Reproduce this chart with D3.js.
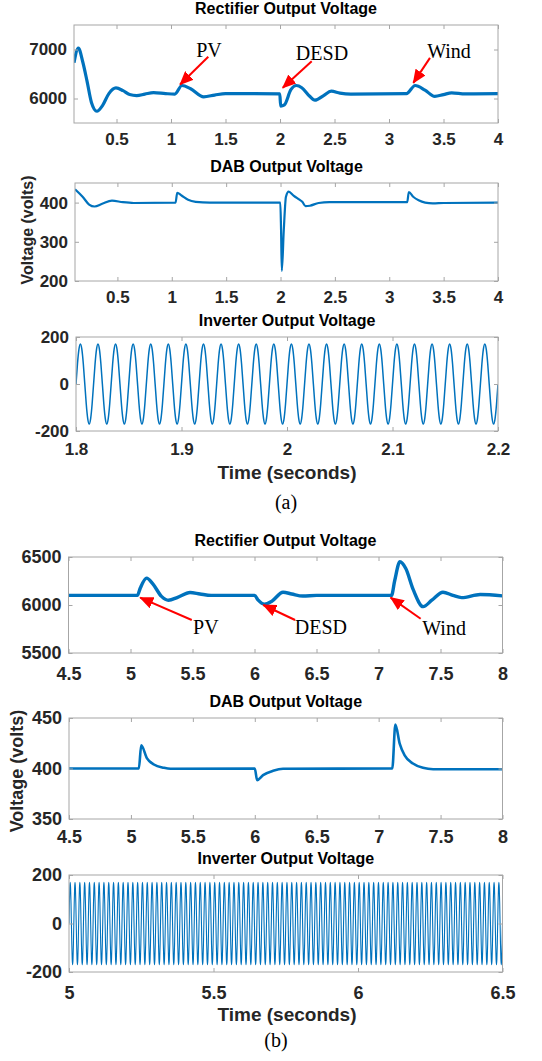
<!DOCTYPE html>
<html>
<head>
<meta charset="utf-8">
<script src="https://cdn.jsdelivr.net/npm/d3@7"></script>
<style>
  body { margin: 0; background: #fff; }
</style>
</head>
<body>
<svg width="542" height="1061"></svg>
<script>
// ---------- data ----------

// (a) rectifier output voltage, 0.11 .. 4 s
var recA_t = [0.11, 0.15, 0.19, 0.23, 0.27, 0.32, 0.37, 0.43, 0.495, 0.56, 0.62, 0.685, 0.76, 0.84, 0.95, 1.035,
  1.1, 1.18, 1.3, 1.4, 1.5, 1.7, 1.998, 2.006, 2.04, 2.1, 2.15, 2.2, 2.27, 2.32, 2.4, 2.47, 2.55, 2.65,
  3.16, 3.24, 3.33, 3.42, 3.5, 3.575, 3.7, 4.0];
var recA_v = [6730, 7030, 6750, 6350, 5920, 5740, 5850, 6100, 6215, 6160, 6080, 6060, 6090, 6120, 6100, 6090,
  6265, 6200, 6035, 6070, 6100, 6100, 6095, 5845, 5870, 6180, 6265, 6220, 6050, 5966, 6060, 6150, 6110, 6090,
  6100, 6265, 6170, 6043, 6080, 6116, 6095, 6100];

// (a) DAB output voltage
var dabA_t = [0.11, 0.18, 0.24, 0.29, 0.36, 0.45, 0.55, 0.65, 1.035, 1.05, 1.09, 1.15, 1.22, 1.35,
  1.998, 2.005, 2.012, 2.03, 2.05, 2.075, 2.12, 2.17, 2.2, 2.23, 2.27, 2.35, 2.45,
  3.165, 3.18, 3.22, 3.27, 3.33, 3.4, 3.5, 4.0];
var dabA_v = [434, 415, 395, 390, 397, 405, 401, 399, 400, 425, 418, 407, 402, 400,
  400, 330, 226, 330, 415, 428, 418, 408, 402, 391, 392, 399, 401,
  401, 427, 415, 406, 400, 398, 399, 400];

// (b) rectifier output voltage, 4.5 .. 8 s
var recB_t = [4.5, 5.055, 5.08, 5.13, 5.18, 5.25, 5.306, 5.38, 5.48, 5.56, 5.65, 6.0, 6.03, 6.08, 6.14, 6.23,
  6.3, 6.39, 6.5, 7.105, 7.13, 7.173, 7.22, 7.28, 7.36, 7.43, 7.52, 7.6, 7.67, 7.82, 8.0];
var recB_v = [6100, 6100, 6180, 6280, 6220, 6090, 6050, 6080, 6130, 6115, 6100, 6100, 6050, 6008, 6040, 6133,
  6115, 6093, 6100, 6100, 6250, 6450, 6380, 6160, 5983, 6050, 6133, 6100, 6077, 6110, 6095];

// (b) DAB output voltage
var dabB_t = [4.5, 5.064, 5.083, 5.13, 5.185, 5.266, 5.32, 6.0, 6.019, 6.067, 6.148, 6.228,
  7.11, 7.135, 7.17, 7.21, 7.277, 7.358, 7.44, 8.0];
var dabB_v = [400, 400, 423, 410, 404, 400.7, 399.7, 400, 388.5, 393.4, 397.7, 399.7,
  400, 443.4, 424.7, 413, 405, 400.7, 399.3, 399.3];

// inverter output: one 60 Hz cycle (12 samples), repeated over the window
var invCycle = [0, 85, 147, 170, 147, 85, 0, -85, -147, -170, -147, -85];
var invFreq = 60;
var invA_window = [1.8, 2.2];
var invB_window = [5, 6.5];

// event annotations
var eventNames = ["PV", "DESD", "Wind"];
var notesA_headT = [1.083, 2.025, 3.223], notesA_headV = [6286, 6218, 6320];
var notesA_tailT = [1.342, 2.291, 3.376], notesA_tailV = [6851, 6761, 6830];
var notesA_textT = [1.349, 2.385, 3.55],  notesA_textV = [6837, 6781, 6832];
var notesB_headT = [5.078, 6.071, 7.098], notesB_headV = [6077, 6000, 6077];
var notesB_tailT = [5.494, 6.327, 7.34],  notesB_tailV = [5844, 5844, 5857];
var notesB_textT = [5.608, 6.535, 7.529], notesB_textV = [5700, 5700, 5684];

// axis ticks
var ticksA_x = [0.5, 1, 1.5, 2, 2.5, 3, 3.5, 4];
var ticksA_inv = [1.8, 1.9, 2, 2.1, 2.2];
var ticksB_x = [4.5, 5, 5.5, 6, 6.5, 7, 7.5, 8];
var ticksB_inv = [5, 5.5, 6, 6.5];

// ---------- drawing ----------
var svg = d3.select("svg");
var BLUE = "#0072BD", INK = "#262626", BOX = "#a6a6a6";
var SANS = "'Liberation Sans', Arial, Helvetica, sans-serif";
var SERIF = "'Liberation Serif', 'Times New Roman', serif";

var defs = svg.append("defs");
defs.append("marker")
    .attr("id", "arrowhead")
    .attr("markerUnits", "userSpaceOnUse")
    .attr("markerWidth", 14).attr("markerHeight", 12)
    .attr("refX", 13).attr("refY", 6)
    .attr("orient", "auto")
  .append("path")
    .attr("d", "M0,0 L14,6 L0,12 Z")
    .attr("fill", "#ff0000");

function tile(cycle, freq, win) {
  var step = 1 / freq / cycle.length, pts = [];
  var n = Math.round((win[1] - win[0]) / step);
  for (var i = 0; i <= n; i++) pts.push([win[0] + i * step, cycle[i % cycle.length]]);
  return pts;
}

var clipCount = 0;
function panel(o) {
  var l = o.box[0], t = o.box[1], r = o.box[2], b = o.box[3];
  var x = d3.scaleLinear().domain(o.xDomain).range([l, r]);
  var y = d3.scaleLinear().domain(o.yDomain).range([b, t]);
  var g = svg.append("g");
  var fmt = function (d) { return String(d); };

  var id = "clip" + (clipCount++);
  defs.append("clipPath").attr("id", id)
    .append("rect").attr("x", l).attr("y", t).attr("width", r - l).attr("height", b - t);

  // trace
  var line = d3.line()
      .x(function (d) { return x(d[0]); })
      .y(function (d) { return y(d[1]); })
      .curve(o.curve);
  g.append("path")
      .datum(o.data)
      .attr("clip-path", "url(#" + id + ")")
      .attr("fill", "none")
      .attr("stroke", BLUE)
      .attr("stroke-width", o.width)
      .attr("stroke-linejoin", "round")
      .attr("d", line);

  // box + inward ticks on all four sides
  g.append("rect").attr("x", l).attr("y", t).attr("width", r - l).attr("height", b - t)
      .attr("fill", "none").attr("stroke", BOX).attr("stroke-width", 1);

  function style(sel, showText) {
    sel.select(".domain").remove();
    sel.selectAll(".tick line").attr("stroke", BOX);
    sel.selectAll(".tick text")
        .attr("fill", INK)
        .attr("font-family", SANS)
        .attr("font-weight", "bold")
        .attr("font-size", o.tickSize)
        .style("display", showText ? null : "none");
  }
  g.append("g").attr("transform", "translate(0," + b + ")")
      .call(d3.axisBottom(x).tickValues(o.xTicks).tickSize(-4).tickPadding(o.xPad).tickFormat(fmt))
      .call(style, true);
  g.append("g").attr("transform", "translate(0," + t + ")")
      .call(d3.axisTop(x).tickValues(o.xTicks).tickSize(-4).tickFormat(fmt))
      .call(style, false);
  g.append("g").attr("transform", "translate(" + l + ",0)")
      .call(d3.axisLeft(y).tickValues(o.yTicks).tickSize(-4).tickPadding(7).tickFormat(fmt))
      .call(style, true);
  g.append("g").attr("transform", "translate(" + r + ",0)")
      .call(d3.axisRight(y).tickValues(o.yTicks).tickSize(-4).tickFormat(fmt))
      .call(style, false);

  // title
  g.append("text")
      .attr("x", (l + r) / 2).attr("y", t - 11)
      .attr("text-anchor", "middle")
      .attr("font-family", SANS).attr("font-weight", "bold").attr("font-size", 16)
      .attr("fill", "#000")
      .text(o.title);

  // red arrows with event names
  if (o.notes) {
    var n = o.notes;
    eventNames.forEach(function (name, i) {
      g.append("line")
          .attr("x1", x(n.tailT[i])).attr("y1", y(n.tailV[i]))
          .attr("x2", x(n.headT[i])).attr("y2", y(n.headV[i]))
          .attr("stroke", "#ff0000").attr("stroke-width", 2)
          .attr("marker-end", "url(#arrowhead)");
      g.append("text")
          .attr("x", x(n.textT[i])).attr("y", y(n.textV[i]))
          .attr("text-anchor", "middle")
          .attr("font-family", SERIF).attr("font-size", 20)
          .attr("fill", "#000")
          .text(name);
    });
  }
}

function label(txt, px, py, size, rotate, font, weight, fill) {
  svg.append("text")
      .attr("transform", "translate(" + px + "," + py + ")" + (rotate ? " rotate(-90)" : ""))
      .attr("text-anchor", "middle")
      .attr("dy", rotate ? "0.35em" : null)
      .attr("font-family", font).attr("font-weight", weight).attr("font-size", size)
      .attr("fill", fill)
      .text(txt);
}

// ----- figure (a) -----
panel({ box: [74, 25, 498, 123], xDomain: [0.11, 4], yDomain: [5500, 7500],
  xTicks: ticksA_x, yTicks: [6000, 7000], xPad: 10, tickSize: 17,
  title: "Rectifier Output Voltage", data: d3.zip(recA_t, recA_v),
  curve: d3.curveMonotoneX, width: 3.2,
  notes: { headT: notesA_headT, headV: notesA_headV, tailT: notesA_tailT, tailV: notesA_tailV,
           textT: notesA_textT, textV: notesA_textV } });

panel({ box: [75, 183, 498, 281], xDomain: [0.11, 4], yDomain: [200, 450],
  xTicks: ticksA_x, yTicks: [200, 300, 400], xPad: 10, tickSize: 17,
  title: "DAB Output Voltage", data: d3.zip(dabA_t, dabA_v),
  curve: d3.curveMonotoneX, width: 2.2 });

panel({ box: [76, 337, 498, 431], xDomain: invA_window, yDomain: [-200, 200],
  xTicks: ticksA_inv, yTicks: [-200, 0, 200], xPad: 12, tickSize: 17,
  title: "Inverter Output Voltage", data: tile(invCycle, invFreq, invA_window),
  curve: d3.curveNatural, width: 1.5 });

label("Voltage (volts)", 27, 230, 16, true, SANS, "bold", INK);
label("Time (seconds)", 287, 479, 19, false, SANS, "bold", INK);
label("(a)", 286, 509, 20, false, SERIF, "normal", "#000");

// ----- figure (b) -----
panel({ box: [68.5, 557, 502.5, 653], xDomain: [4.5, 8], yDomain: [5500, 6500],
  xTicks: ticksB_x, yTicks: [5500, 6000, 6500], xPad: 14, tickSize: 18,
  title: "Rectifier Output Voltage", data: d3.zip(recB_t, recB_v),
  curve: d3.curveMonotoneX, width: 3.4,
  notes: { headT: notesB_headT, headV: notesB_headV, tailT: notesB_tailT, tailV: notesB_tailV,
           textT: notesB_textT, textV: notesB_textV } });

panel({ box: [69, 718, 502.5, 819], xDomain: [4.5, 8], yDomain: [350, 450],
  xTicks: ticksB_x, yTicks: [350, 400, 450], xPad: 11, tickSize: 18,
  title: "DAB Output Voltage", data: d3.zip(dabB_t, dabB_v),
  curve: d3.curveMonotoneX, width: 2.6 });

panel({ box: [69, 875, 502.5, 972], xDomain: invB_window, yDomain: [-200, 200],
  xTicks: ticksB_inv, yTicks: [-200, 0, 200], xPad: 14, tickSize: 18,
  title: "Inverter Output Voltage", data: tile(invCycle, invFreq, invB_window),
  curve: d3.curveNatural, width: 1.1 });

label("Voltage (volts)", 17, 771, 18, true, SANS, "bold", INK);
label("Time (seconds)", 287, 1021, 19, false, SANS, "bold", INK);
label("(b)", 276, 1047, 20, false, SERIF, "normal", "#000");
</script>
</body>
</html>
